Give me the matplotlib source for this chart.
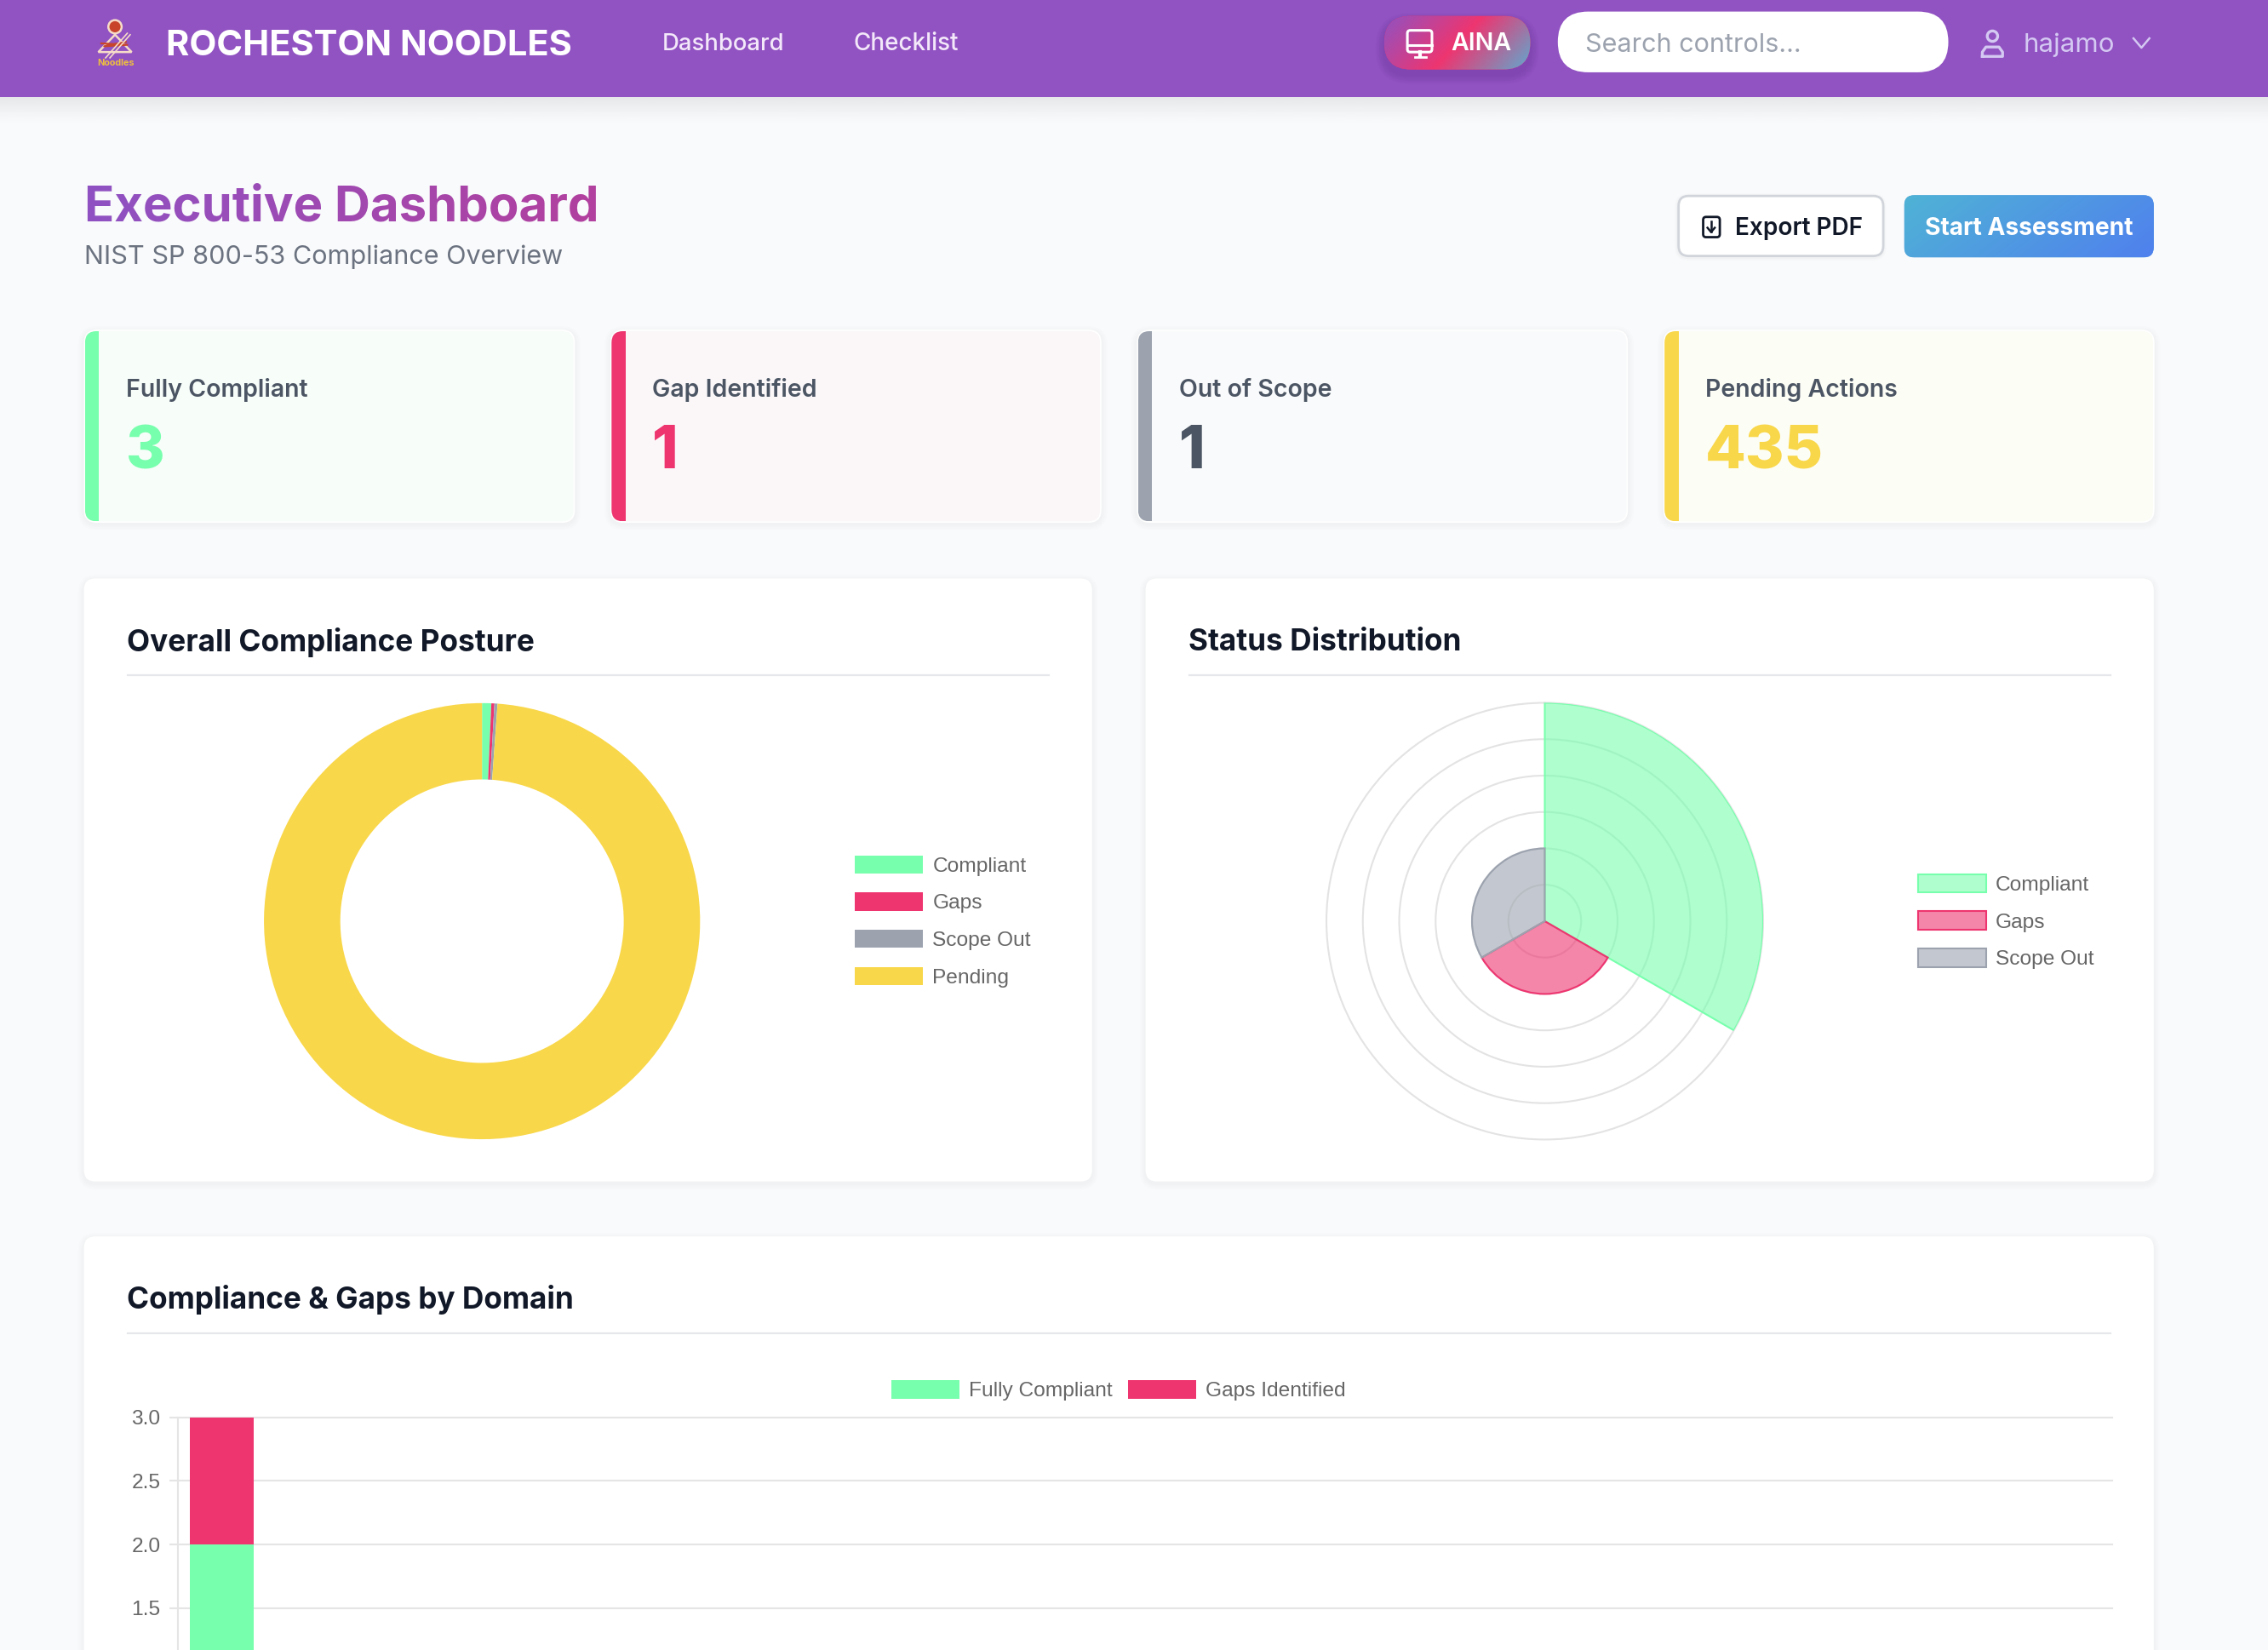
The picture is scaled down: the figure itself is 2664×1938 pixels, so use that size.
import numpy as np
import matplotlib
matplotlib.use('Agg')
import matplotlib.pyplot as plt
from matplotlib.colors import LinearSegmentedColormap, to_rgb
from matplotlib.patches import Circle, FancyBboxPatch, Polygon, Rectangle

GREEN = '#78ffad'
RED = '#ee3570'
GREY = '#9ca3af'
YELLOW = '#f9d74a'
PURPLE = '#9152c2'

card_titles = ['Fully Compliant', 'Gap Identified', 'Out of Scope', 'Pending Actions']
card_values = ['3', '1', '1', '435']

posture_labels = ['Compliant', 'Gaps', 'Scope Out', 'Pending']
posture_values = [3, 1, 1, 435]

status_labels = ['Compliant', 'Gaps', 'Scope Out']
status_values = [3, 1, 1]

domain_compliant = [2, 0, 0, 0, 0, 0, 0, 0, 0, 0, 0, 0, 0, 0, 0, 0, 0, 0, 0, 0, 0, 0]
domain_gaps = [1, 0, 0, 0, 0, 0, 0, 0, 0, 0, 0, 0, 0, 0, 0, 0, 0, 0, 0, 0, 0, 0]
domain_ticks = [1.5, 2.0, 2.5, 3.0]

# layout numbers are in a 1568 wide space, k turns them into real pixels
W, H = 1568, 1141
k = 2664 / W


def fs(px):
    return px * k * 0.72


fig = plt.figure(figsize=(26.64, 19.38), dpi=100)
ui = fig.add_axes([0, 0, 1, 1], zorder=0)
ui.set_xlim(0, W)
ui.set_ylim(H, 0)
ui.axis('off')
ui.add_patch(Rectangle((0, 0), W, H, color='#f9fafb', zorder=0))


def box(x0, y0, x1, y1, r, **kw):
    p = FancyBboxPatch((x0, y0), x1 - x0, y1 - y0,
                       boxstyle=f'round,pad=0,rounding_size={r}', **kw)
    ui.add_patch(p)
    return p


def shadow(x0, y0, x1, y1, r, dy=1.5, spread=4, a=0.007):
    for i in range(spread, 0, -1):
        box(x0 - i, y0 - i + dy, x1 + i, y1 + i + dy, r + i, fc=(0, 0, 0, a),
            ec='none', zorder=1)


def gradient(x0, y0, x1, y1, patch, colors, zorder=3):
    cmap = LinearSegmentedColormap.from_list('g', colors)
    xx, yy = np.meshgrid(np.linspace(0, 1, 200), np.linspace(0, 1, 60))
    im = ui.imshow(0.75 * xx + 0.25 * yy, extent=(x0, x1, y1, y0), cmap=cmap,
                   aspect='auto', zorder=zorder, vmin=0, vmax=1)
    im.set_clip_path(patch)


def text_gradient(c0, c1):
    c0, c1 = np.array(to_rgb(c0)), np.array(to_rgb(c1))

    def apply(image, dpi):
        out = image.copy()
        t = np.linspace(0, 1, image.shape[1])[:, None]
        out[:, :, :3] = c0 * (1 - t)[None, :, :] + c1 * t[None, :, :]
        return out, 0, 0
    return apply


def label(x, y, s, size, color, weight='normal', ha='left', family='Inter', **kw):
    return ui.text(x, y, s, fontsize=fs(size), color=color, fontweight=weight,
                   ha=ha, va='center', family=family, zorder=6, **kw)


# navbar
ui.add_patch(Rectangle((0, 0), W, 67, color=PURPLE, zorder=4, lw=0))
nav_shadow = ui.imshow(np.linspace(0.1, 0, 40)[:, None] ** 1.3 * 1.6, extent=(0, W, 88, 67),
                       cmap=LinearSegmentedColormap.from_list(
                           's', [(0, 0, 0, 0), (0, 0, 0, 1)]),
                       vmin=0, vmax=1, aspect='auto', zorder=1)

# logo
ui.add_patch(Circle((79.5, 18.5), 4.6, fc='#c8452c', ec='#f6dcc8', lw=1.8, zorder=5))
ui.add_patch(Polygon([[79.5, 24], [68, 36], [91, 36]], closed=True, fc='none',
                     ec='#f6dcc8', lw=1.8, zorder=5))
ui.plot([70, 88, 72, 87], [30, 31, 32, 29], color='#c8452c', lw=1.6, zorder=6)
ui.plot([76, 90], [40, 24], color='#f6dcc8', lw=1.2, zorder=6)
ui.plot([73, 88], [40, 23], color='#f6dcc8', lw=1.2, zorder=6)
label(80, 43.5, 'Noodles', 6.4, '#eec03e', 'bold', ha='center')

label(115, 31.5, 'ROCHESTON NOODLES', 24.5, 'white', 'bold')
label(458, 30.5, 'Dashboard', 16.2, '#f3e8fa', '500')
label(590, 30.5, 'Checklist', 16.4, '#f3e8fa', '500')

# AINA badge
for i in range(6, 0, -1):
    box(957 - i, 11 - i + 4, 1058 + i, 48 + i + 4, 18 + i, fc=(0.2, 0.1, 0.4, 0.025),
        ec='none', zorder=4.5)
aina = box(957, 11, 1058, 48, 18.5, fc=RED, ec='none', zorder=5)
gradient(957, 11, 1058, 48, aina, [PURPLE, RED, '#5fa9cf'], zorder=5)
box(973, 21, 990, 36, 2, fc='none', ec='white', lw=2.2, zorder=6)
ui.plot([973, 990], [31, 31], color='white', lw=2.2, zorder=6)
ui.plot([982, 982], [36, 39], color='white', lw=3, zorder=6)
ui.plot([978, 986], [39.5, 39.5], color='white', lw=2, zorder=6)
label(1003, 30.5, 'AINA', 16.8, 'white', '600')

# search box and user
box(1077, 8, 1347, 50, 21, fc='white', ec='none', zorder=5)
label(1096, 31, 'Search controls...', 18, '#9ca3af')
ui.add_patch(Circle((1377.5, 25), 3.6, fc='none', ec='#d4c9f2', lw=2.4, zorder=6))
ui.plot([1370.5, 1370.5, 1373, 1382, 1384.5, 1384.5, 1370.5],
        [39, 36, 32.5, 32.5, 36, 39, 39], color='#d4c9f2', lw=2.4, zorder=6)
label(1399, 31, 'hajamo', 18.4, '#d4c9f2')
ui.plot([1475, 1480.5, 1486], [26.5, 33, 26.5], color='#d4c9f2', lw=1.8, zorder=6)

# page heading
label(58, 144, 'Executive Dashboard', 34.2, PURPLE, 'bold',
      agg_filter=text_gradient('#8f52c3', '#b2409f'))
label(58, 177.5, 'NIST SP 800-53 Compliance Overview', 18, '#6b7280')

# header buttons
shadow(1160, 135, 1302, 177, 7, dy=1, spread=2, a=0.015)
box(1160.5, 135.5, 1302, 177, 7, fc='white', ec='#d1d5db', lw=2, zorder=3)
box(1177.5, 150, 1189, 164, 2, fc='none', ec='#111827', lw=2, zorder=6)
ui.plot([1183, 1183], [153, 160], color='#111827', lw=1.8, zorder=6)
ui.plot([1180.5, 1183, 1185.5], [157.5, 160.5, 157.5], color='#111827', lw=1.8, zorder=6)
label(1199.5, 158, 'Export PDF', 16.5, '#111827', '600')
start = box(1316.5, 135, 1489, 178, 7, fc='#50a0e0', ec='none', zorder=3)
gradient(1316.5, 135, 1489, 178, start, ['#50b3d5', '#4f80ee'])
label(1331, 158, 'Start Assessment', 16.6, 'white', '700')

# status cards
card_x = [58, 422, 786, 1150]
card_w = 339.5
card_color = [GREEN, RED, GREY, YELLOW]
card_tint = ['#f7fdf9', '#fbf7f9', '#f9fafb', '#fcfdf5']
card_num = [GREEN, RED, '#4b5563', YELLOW]
for x, name, val, col, tint, numc in zip(card_x, card_titles, card_values,
                                         card_color, card_tint, card_num):
    shadow(x, 228, x + card_w, 361, 9)
    box(x, 228, x + card_w, 361.5, 9, fc='white', ec='none', zorder=2)
    inner = box(x + 0.8, 229, x + card_w - 1, 360.5, 8, fc=tint, ec='none', zorder=3)
    strip = Rectangle((x + 0.8, 229), 9.7, 131.5, fc=col, ec='none', zorder=3.5)
    ui.add_patch(strip)
    strip.set_clip_path(inner)
    label(x + 29, 269.5, name, 16.8, '#4b5563', '600')
    label(x + 29, 313, val, 41, numc, '800')

# chart panels
panels = [(58, 400, 755, 817, 'Overall Compliance Posture'),
          (792, 400, 1489, 817, 'Status Distribution'),
          (58, 855, 1489, 1180, 'Compliance & Gaps by Domain')]
for x0, y0, x1, y1, title in panels:
    shadow(x0, y0, x1, y1, 8)
    box(x0, y0, x1, y1, 8, fc='white', ec='none', zorder=2)
    label(x0 + 29.5, y0 + 44, title, 20.7, '#111827', '700')
    ui.plot([x0 + 30, x1 - 30], [y0 + 67, y0 + 67], color='#e5e7eb', lw=1.6, zorder=3)
ui.set_xlim(0, W)
ui.set_ylim(H, 0)


def chart_axes(x0, y0, x1, y1, **kw):
    ax = fig.add_axes([x0 / W, 1 - y1 / H, (x1 - x0) / W, (y1 - y0) / H], zorder=5, **kw)
    ax.patch.set_alpha(0)
    return ax


def chart_legend(ax, handles, labels, x, y, ncol=1):
    leg = ax.legend(handles, labels, loc='upper left', ncol=ncol,
                    bbox_to_anchor=(x / W, 1 - y / H), bbox_transform=fig.transFigure,
                    frameon=False, borderpad=0, borderaxespad=0,
                    prop={'family': 'Liberation Sans', 'size': fs(14.4)},
                    handlelength=3.28, handleheight=0.97, handletextpad=0.45,
                    labelspacing=0.8, columnspacing=0.75, labelcolor='#666666')
    return leg


# donut
ax1 = chart_axes(182.5, 486, 484, 788)
wedges, _ = ax1.pie(posture_values, colors=[GREEN, RED, GREY, YELLOW], startangle=90,
                    counterclock=False, radius=1, wedgeprops={'width': 0.35, 'lw': 0})
ax1.set_xlim(-1, 1)
ax1.set_ylim(-1, 1)
chart_legend(ax1, wedges, posture_labels, 591, 591.5)

# polar area
ax2 = chart_axes(917, 486, 1219, 788, projection='polar')
ax2.set_theta_zero_location('N')
ax2.set_theta_direction(-1)
n = len(status_values)
angles = np.arange(n) * 2 * np.pi / n
fills = [(*to_rgb(c), 0.6) for c in (GREEN, RED, GREY)]
sectors = ax2.bar(angles, status_values, width=2 * np.pi / n, align='edge', color=fills,
                  edgecolor=[GREEN, RED, GREY], linewidth=1.5, zorder=2)
ax2.set_ylim(0, 3)
ax2.set_yticks([0.5, 1, 1.5, 2, 2.5, 3])
ax2.set_yticklabels([])
ax2.set_xticks([])
ax2.set_axisbelow(True)
ax2.yaxis.grid(True, color='#e3e3e3', lw=1.5, clip_on=False)
ax2.spines['polar'].set_visible(False)
chart_legend(ax2, sectors, status_labels, 1326, 604.5)

# stacked bars, the card runs past the bottom of the picture
ax3 = chart_axes(123, 980, 1460, 1141)
xs = np.arange(len(domain_compliant))
bar_comp = ax3.bar(xs, domain_compliant, width=0.72, color=GREEN, zorder=3)
bar_gaps = ax3.bar(xs, domain_gaps, width=0.72, bottom=domain_compliant, color=RED, zorder=3)
ax3.set_xlim(-0.5, len(xs) - 0.5)
ax3.set_ylim(3 - 161 / 88, 3)
ax3.set_yticks(domain_ticks)
ax3.set_yticklabels([f'{t:.1f}' for t in domain_ticks], family='Liberation Sans',
                    fontsize=fs(14.4), color='#666666')
ax3.tick_params(axis='y', length=fs(6), width=1.5, color='#e5e5e5', pad=fs(6))
ax3.set_xticks([])
ax3.grid(axis='y', color='#e5e5e5', lw=1.5, zorder=1, clip_on=False)
ax3.set_axisbelow(True)
for side in ['top', 'right', 'bottom']:
    ax3.spines[side].set_visible(False)
ax3.spines['left'].set_color('#e5e5e5')
ax3.spines['left'].set_linewidth(1.5)
chart_legend(ax3, [bar_comp, bar_gaps], ['Fully Compliant', 'Gaps Identified'], 616, 954.5, ncol=2)

plt.savefig('out.png', dpi=100)
